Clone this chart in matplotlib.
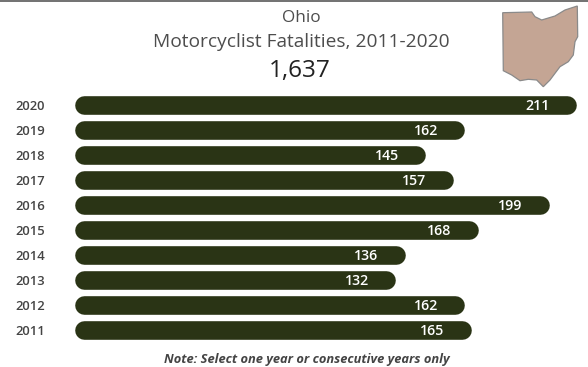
import matplotlib
matplotlib.use("Agg")
import matplotlib.pyplot as plt
from matplotlib.patches import Polygon

years = ["2020", "2019", "2018", "2017", "2016", "2015", "2014", "2013", "2012", "2011"]
fatalities = [211, 162, 145, 157, 199, 168, 136, 132, 162, 165]
total = "1,637"
state = "Ohio"
subtitle = "Motorcyclist Fatalities, 2011-2020"
note = "Note: Select one year or consecutive years only"

# state outline, pixels on the 588x367 canvas
ohio_outline = [(502.7, 12.7), (531.7, 12), (535, 16.7), (541.7, 20), (555, 16), (565, 10), (577.3, 6),
                (577.7, 36.7), (575, 41.7), (573.3, 55), (568.3, 61.7), (560, 66.7), (555, 73.3),
                (550, 80), (543.3, 86.7), (536.7, 80), (528.3, 79.3), (520, 80.7), (511.7, 75), (503.3, 70.7)]

bar_color = "#2a3415"
W, H = 588, 367

plt.rcParams["font.family"] = ["Open Sans", "DejaVu Sans"]
fig = plt.figure(figsize=(W / 100, H / 100), dpi=100, facecolor="white")

# axes spans the row area, zero sits at the centre of the left cap
x0 = 84.0
px_per_unit = 2.291
top, bottom = 92.5, 342.5
ax = fig.add_axes([x0 / W, 1 - bottom / H, (W - x0) / W, (bottom - top) / H])
ax.set_xlim(0, (W - x0) / px_per_unit)
ax.set_ylim(len(years) - 0.5, -0.5)
ax.axis("off")

for i, (year, value) in enumerate(zip(years, fatalities)):
    ax.plot([0, value], [i, i], color=bar_color, lw=13.4, solid_capstyle="round", clip_on=False)
    ax.annotate(str(value), (value, i), xytext=(-21.2, -0.5), textcoords="offset points",
                ha="center", va="center", color="white", fontsize=10.2, fontweight="semibold")
    ax.annotate(year, (0, i), xytext=(-39, -0.9), textcoords="offset points",
                ha="center", va="center", color="#444444", fontsize=9.4, fontweight="semibold",
                annotation_clip=False)


def px_text(x, y, s, **kw):
    fig.text(x / W, 1 - y / H, s, ha="center", va="center", **kw)


px_text(301, 18, state, fontsize=12.3, color="#4d4d4d")
px_text(301, 42, subtitle, fontsize=13.8, color="#4d4d4d")
px_text(300, 71, total, fontsize=17.6, color="#222222", fontweight="medium")
px_text(307, 360, note, fontsize=9.3, color="#444444", fontstyle="italic", fontweight="bold")

# map of the state and the dark rule along the top edge
fig.add_artist(Polygon([(x / W, 1 - y / H) for x, y in ohio_outline], closed=True,
                       facecolor="#c4a594", edgecolor="#8a8a8a", lw=0.9,
                       transform=fig.transFigure))
fig.add_artist(plt.Line2D([0, 1], [1 - 0.75 / H] * 2, color="#4a4a4a", lw=1.1))

fig.savefig("out.png", dpi=100)
